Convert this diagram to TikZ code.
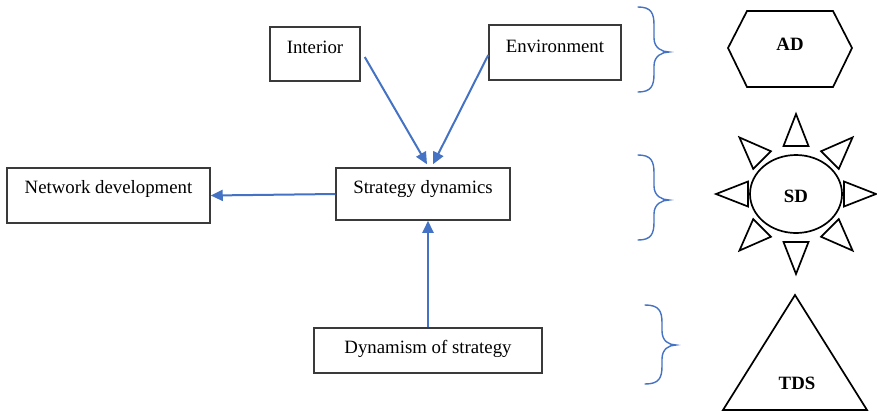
\documentclass[tikz,border=0pt]{standalone}
\usepackage{fontspec}
\setmainfont{Liberation Serif}
\usetikzlibrary{arrows.meta,calc,shapes.geometric}
\definecolor{arrblue}{HTML}{4472C4}
\definecolor{boxgray}{HTML}{3A3A3A}
\tikzset{
  box/.style={draw=boxgray, line width=1.5pt, rectangle, inner sep=0pt},
  lbl/.style={font=\fontsize{18.8}{22}\selectfont, inner sep=0pt},
  blbl/.style={font=\fontsize{18.8}{22}\selectfont\bfseries, inner sep=0pt},
  arr/.style={draw=arrblue, line width=2pt, -{Triangle[length=12pt,width=11pt]}},
  shp/.style={draw=black, line width=1.7pt, line join=miter},
  brc/.style={draw=arrblue, line width=1.4pt, line cap=round},
}
\newcommand\mybrace[6]{% x0 xm xt y0 ym y1
  \draw[brc] (#1,#4) .. controls (#2-3,#4) and (#2,#4+6) .. (#2,#4+18) -- (#2,#5-14)
    .. controls (#2,#5-4) and (#3-7,#5) .. (#3,#5)
    .. controls (#3-7,#5) and (#2,#5+4) .. (#2,#5+14)
    -- (#2,#6-18) .. controls (#2,#6-6) and (#2-3,#6) .. (#1,#6);}
\begin{document}
\begin{tikzpicture}[x=1pt,y=-1pt]
\useasboundingbox (0,0) rectangle (877,413);
% boxes
\node[box, minimum width=90pt, minimum height=54pt] (int) at (315,54) {};
\node[lbl] (intT) at (315,47) {Interior};
\node[box, minimum width=132pt, minimum height=55pt] (env) at (555,52.5) {};
\node[lbl] (envT) at (555,46) {Environment};
\node[box, minimum width=174pt, minimum height=52pt] (sd) at (423,194) {};
\node[lbl] (sdT) at (423,189) {Strategy dynamics};
\node[box, minimum width=203pt, minimum height=55pt] (net) at (108.5,195.5) {};
\node[lbl] (netT) at (108.5,189) {Network development};
\node[box, minimum width=228pt, minimum height=45pt] (dyn) at (428,350.5) {};
\node[lbl] (dynT) at (428,349) {Dynamism of strategy};
% arrows
\draw[arr] ($(int.east)+(4,3)$) -- ($(sd.north)+(4,-3)$);
\draw[arr] ($(env.west)+(0,2.5)$) -- ($(sd.north)+(10,-3)$);
\draw[arr] (sd.west) -- (net.east);
\draw[arr] (dyn.north) -- (dyn.north |- sd.south);
% braces
\mybrace{638}{654}{669}{7}{52}{92}
\mybrace{638}{654}{669}{155}{200}{240}
\mybrace{645}{662}{676}{305}{345}{384}
% AD hexagon
\draw[shp] (728,48) -- (747,11) -- (833,11) -- (852,48) -- (833,87) -- (747,87) -- cycle;
\node[blbl] (ad) at (790,44) {AD};
% SD sun
\node[shp, ellipse, minimum width=92pt, minimum height=78pt, inner sep=0pt] (sdn) at (796,194) {};
\node[blbl] (sdl) at (796,196) {SD};
\foreach \a in {0,45,...,315} {
  \draw[shp] ($(sdn.center)+(\a:48)+(\a+90:12.5)$) -- ($(sdn.center)+(\a:80)$) -- ($(sdn.center)+(\a:48)+(\a-90:12.5)$) -- cycle;
}
% TDS triangle
\draw[shp] (795,295) -- (867,410) -- (723,410) -- cycle;
\node[blbl] (tds) at (797,383) {TDS};
\end{tikzpicture}
\end{document}
